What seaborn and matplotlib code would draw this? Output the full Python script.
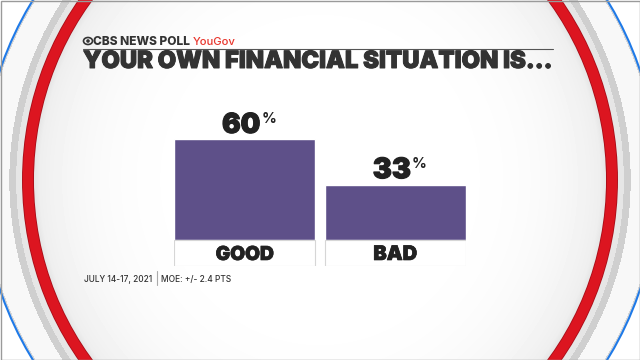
import numpy as np
import pandas as pd
import seaborn as sns
import matplotlib.pyplot as plt
import matplotlib.patheffects as pe
from matplotlib.patches import Circle, Ellipse

# Datos de la encuesta
categorias = ['GOOD', 'BAD']
porcentajes = [60, 33]
titulo = 'YOUR OWN FINANCIAL SITUATION IS...'
fuente = 'CBS NEWS POLL'
socio = 'YouGov'
pie = 'JULY 14-17, 2021'
margen = 'MOE: +/- 2.4 PTS'

df = pd.DataFrame({'respuesta': categorias, 'pct': porcentajes})

sns.set_theme(style='white')
plt.rcParams['font.family'] = ['Inter', 'DejaVu Sans']

morado = '#5e5089'
gris_texto = '#333333'
negro = '#222222'

fig = plt.figure(figsize=(6.4, 3.6), dpi=100)


def ajustar(t, ancho):
    # escala el tamaño de letra para que el texto ocupe 'ancho' pixeles
    for _ in range(2):
        fig.canvas.draw()
        w = t.get_window_extent().width
        t.set_fontsize(t.get_fontsize() * ancho / w)
    fig.canvas.draw()
    return t.get_window_extent()


def grueso(color, lw=0.7):
    # engrosa un poco las letras
    return [pe.withStroke(linewidth=lw, foreground=color)]


# Fondo decorativo (anillos rojo y azul) en pixeles
bg = fig.add_axes([0, 0, 1, 1])
bg.set_xlim(0, 640)
bg.set_ylim(360, 0)
bg.axis('off')
cx, cy = 320, 180
ra, rb = 292, 302     # anillo rojo
ba, bb = 338, 341     # anillo azul
yy, xx = np.mgrid[0:360, 0:640] + 0.5
s = np.hypot((xx - cx) / ra, (yy - cy) / rb)
sb = np.hypot((xx - cx) / ba, (yy - cy) / bb)
d = (s - 1) * 297
fondo = np.ones_like(s)
dentro = s < 1
fondo[dentro] = 1 - 0.08 * s[dentro] ** 5
sombra = (d > -14) & (d < -5)
fondo[sombra] = np.minimum(fondo[sombra], 0.95 - 0.06 * (d[sombra] + 14) / 9)
fuera = (s >= 1) & (sb < 1)
fondo[fuera] = 0.97
fondo[fuera & (d < 12)] = 0.90
fondo[fuera & (d >= 12) & (d < 19)] = 0.81
fondo[fuera & (sb > 0.993)] = 0.84
bg.imshow(fondo, cmap='gray', vmin=0, vmax=1, extent=(0, 640, 360, 0),
          interpolation='bilinear', zorder=1)
bg.add_patch(Ellipse((cx, cy), 2 * ba, 2 * bb, facecolor='none', edgecolor='#1f7ae8', lw=1.5, zorder=3))
bg.add_patch(Ellipse((cx, cy), 2 * ra, 2 * rb, facecolor='none', edgecolor='#a80d18', lw=8.6, zorder=3))
bg.add_patch(Ellipse((cx, cy), 2 * ra, 2 * rb, facecolor='none', edgecolor='#dc1520', lw=7.4, zorder=3))
bg.set_aspect('auto')
bg.add_patch(plt.Rectangle((0.5, 0.5), 639, 359, facecolor='none', edgecolor='#9a9a9a', lw=1, zorder=4))

# Encabezado
bg.add_patch(Ellipse((88, 41), 9, 7, facecolor='none', edgecolor=gris_texto, lw=1.2, zorder=5))
bg.add_patch(Circle((88, 41), 1.8, facecolor=gris_texto, edgecolor='none', zorder=5))
t1 = fig.text(93 / 640, 1 - 45 / 360, fuente, fontsize=8, fontweight='heavy',
              color=gris_texto, va='baseline', ha='left')
ext = ajustar(t1, 97)
t1b = fig.text((ext.x1 + 3) / 640, 1 - 45 / 360, socio, fontsize=8, fontweight='medium',
               color='#e8362d', va='baseline', ha='left')
ajustar(t1b, 43)
bg.plot([83, 553], [48.5, 48.5], color='#555555', lw=0.8, zorder=5)
t = fig.text(83 / 640, 1 - 68 / 360, titulo, fontsize=20, fontweight='black',
             color=gris_texto, va='baseline', ha='left', path_effects=grueso(gris_texto))
ajustar(t, 469)

# Pie
t2 = fig.text(84 / 640, 1 - 282 / 360, pie, fontsize=7, fontweight='medium',
              color=gris_texto, va='baseline', ha='left')
ext = ajustar(t2, 68)
bg.plot([ext.x1 + 5, ext.x1 + 5], [271, 285], color='#aaaaaa', lw=0.8, zorder=5)
t3 = fig.text((ext.x1 + 9) / 640, 1 - 282 / 360, margen, fontsize=7, fontweight='medium',
              color=gris_texto, va='baseline', ha='left')
ajustar(t3, 70)

# Grafico de barras
ax = fig.add_axes([174 / 640, 94 / 360, 292 / 640, 194 / 360])
ax.patch.set_alpha(0)
caja = 15.5
sns.barplot(data=df, x='respuesta', y='pct', color=morado, width=0.937,
            saturation=1, ax=ax, zorder=3)
ax.bar(range(len(categorias)), [caja] * len(categorias), bottom=-caja, width=0.937,
       color='white', edgecolor='#d6d6d6', lw=0.8, zorder=3)
ancho_cat = [58, 44]
for i, (cat, v) in enumerate(zip(categorias, porcentajes)):
    tc = ax.text(i, -caja / 2, cat, ha='center', va='center_baseline', fontsize=12,
                 fontweight='black', color=negro, zorder=4, path_effects=grueso(negro, 0.5))
    ajustar(tc, ancho_cat[i])
    tn = ax.annotate(str(v), (i, v), xytext=(-2.5, 4.5), textcoords='offset points',
                     ha='center', va='baseline', fontsize=20, fontweight='black',
                     color=negro, path_effects=grueso(negro, 0.8))
    ajustar(tn, 38)
    ax.annotate('%', (i, v), xytext=(12, 12), textcoords='offset points',
                ha='left', va='baseline', fontsize=10.5, fontweight='bold',
                color=negro)
ax.set_xlim(-0.47, 1.47)
ax.set_ylim(-caja, 100)
ax.axis('off')

fig.savefig('out.png', dpi=100)
